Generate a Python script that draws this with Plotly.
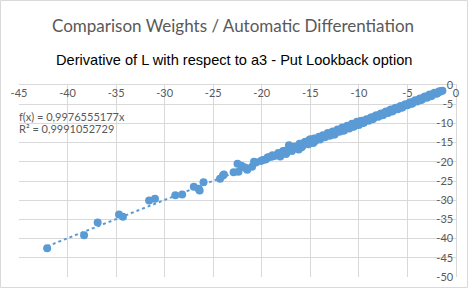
import plotly.graph_objects as go

# Points (Weights estimate vs AD)
x_vals = [-42.1, -38.3, -36.9, -34.7, -34.3, -31.6, -31.0, -28.9, -28.2, -27.0, -26.5, -26.4, -26.0,
          -24.3, -24.0, -23.9, -22.9, -22.5, -22.4, -22.1, -21.8, -21.6, -21.5, -21.0, -20.8, -20.6,
          -20.1, -19.9, -19.6, -19.3, -19.0, -18.7, -18.4, -18.1, -17.9, -17.7, -17.5, -17.2, -17.0,
          -16.8, -16.5, -16.2, -16.0, -15.8, -15.5, -15.2, -15.0, -14.8, -14.5, -14.3, -14.0, -13.8,
          -13.5, -13.3, -13.0, -12.8, -12.5, -12.3, -12.0, -11.8, -11.5, -11.3, -11.0, -10.8, -10.5,
          -10.3, -10.0, -9.8, -9.5, -9.3, -9.0, -8.8, -8.5, -8.3, -8.0, -7.8, -7.5, -7.3, -7.0, -6.8,
          -6.5, -6.3, -6.0, -5.8, -5.5, -5.3, -5.0, -4.8, -4.5, -4.3, -4.0, -3.8, -3.5, -3.3, -3.0,
          -2.8, -2.5, -2.3, -2.0, -1.8, -1.6, -1.4,
          -17.6, -16.9, -15.9, -14.7, -13.6, -12.6, -11.6, -10.6, -9.6, -8.6, -7.6, -6.6, -5.6, -4.6,
          -3.6, -2.6, -1.9,
          -19.4, -18.9, -18.3, -17.8, -17.3, -16.6, -16.1, -15.6, -15.1, -14.6, -14.1, -13.7, -13.2,
          -12.7, -12.2, -11.7, -11.2, -10.7, -10.2, -9.7, -9.2, -8.7, -8.2, -7.7, -7.2, -6.7, -6.2,
          -5.7, -5.2, -4.7, -4.2, -3.7, -3.2, -2.7, -2.2, -1.7]
y_vals = [-42.5, -39.1, -35.8, -33.7, -34.3, -30.1, -29.6, -28.7, -28.5, -26.5, -27.0, -27.5, -25.3,
          -24.4, -23.6, -23.3, -22.7, -20.5, -22.6, -21.0, -21.4, -21.7, -22.1, -21.3, -20.0, -20.2,
          -19.8, -19.5, -19.4, -18.8, -18.7, -18.5, -18.2, -18.6, -17.9, -17.4, -18.0, -15.7, -16.9,
          -16.3, -16.5, -16.8, -15.6, -15.9, -14.8, -15.4, -14.1, -14.4, -14.6, -13.9, -14.2, -13.5,
          -13.6, -13.1, -13.2, -12.6, -12.9, -12.1, -12.2, -11.5, -11.8, -11.0, -11.3, -10.5, -10.8,
          -10.1, -10.4, -9.4, -9.8, -9.2, -9.3, -8.6, -8.7, -8.1, -8.3, -7.6, -7.8, -7.1, -7.3, -6.6,
          -6.8, -6.1, -6.3, -5.7, -5.8, -5.2, -5.3, -4.7, -4.8, -4.2, -4.3, -3.7, -3.8, -3.2, -3.3,
          -2.7, -2.8, -2.2, -2.3, -1.8, -1.7, -1.5,
          -17.1, -17.2, -16.2, -15.1, -13.3, -12.9, -11.9, -10.9, -9.9, -8.9, -7.9, -6.9, -5.9, -4.9,
          -3.9, -2.9, -2.1,
          -18.9, -18.3, -17.7, -17.2, -16.9, -16.0, -15.3, -14.9, -14.3, -13.9, -13.5, -13.1, -12.5,
          -12.1, -11.6, -11.1, -10.6, -10.1, -9.6, -9.3, -8.9, -8.4, -7.9, -7.4, -6.9, -6.4, -5.9,
          -5.5, -5.0, -4.5, -4.0, -3.5, -3.0, -2.5, -2.0, -1.6]

slope = 0.9976555177
trend_x = [min(x_vals), max(x_vals)]
trend_y = [slope * v for v in trend_x]

x_ticks = [-45, -40, -35, -30, -25, -20, -15, -10, -5, 0]
y_ticks = [0, -5, -10, -15, -20, -25, -30, -35, -40, -45, -50]

title = "Comparison Weights / Automatic Differentiation"
subtitle = "Derivative of L with respect to a3 - Put Lookback option"
eq_text = "f(x) = 0,9976555177x"
r2_text = "R² = 0,9991052729"

blue = "#5b9bd5"
grey_text = "#595959"
grid = "#d9d9d9"
lato = "Lato, Carlito, sans-serif"

fig = go.Figure()
fig.add_trace(go.Scatter(x=trend_x, y=trend_y, mode="lines",
                         line=dict(color=blue, width=2, dash="dot"), hoverinfo="skip",
                         showlegend=False))
fig.add_trace(go.Scatter(x=x_vals, y=y_vals, mode="markers",
                         marker=dict(color=blue, size=8, line=dict(width=0)),
                         showlegend=False))

W, H = 468, 288
L, R, T, B = 19, 12, 85, 11
ph = H - T - B

def py(pix):
    return (H - B - pix) / ph

def px(pix):
    return (pix - L) / (W - L - R)

fig.update_layout(
    width=W, height=H,
    margin=dict(l=L, r=R, t=T, b=B, autoexpand=False),
    paper_bgcolor="white", plot_bgcolor="white",
    font=dict(family=lato, size=11, color=grey_text),
    xaxis=dict(range=[-45, 0], side="top", tickvals=x_ticks, ticktext=[str(v) for v in x_ticks],
               ticklabelposition="inside", ticklabeloverflow="allow", ticklabelstandoff=4,
               showgrid=True, gridcolor=grid, gridwidth=1, zeroline=False,
               showline=True, linecolor=grid, linewidth=1, ticks="",
               tickfont=dict(family=lato, size=11, color=grey_text), fixedrange=True),
    yaxis=dict(range=[-50, 0], side="right", tickvals=y_ticks, ticktext=[str(v) for v in y_ticks],
               ticklabelposition="inside", ticklabeloverflow="allow", ticklabelstandoff=2,
               showgrid=True, gridcolor=grid, gridwidth=1, zeroline=False,
               showline=True, linecolor=grid, linewidth=1, ticks="",
               tickfont=dict(family=lato, size=11, color=grey_text), fixedrange=True),
    annotations=[
        dict(text=title, xref="paper", yref="paper", x=px(233), y=py(25),
             xanchor="center", yanchor="middle", showarrow=False,
             font=dict(family=lato, size=17, color=grey_text)),
        dict(text=subtitle, xref="paper", yref="paper", x=px(233.5), y=py(60),
             xanchor="center", yanchor="middle", showarrow=False,
             font=dict(family="Liberation Sans, Arial, sans-serif", size=14.6, color="black")),
        dict(text=eq_text, xref="paper", yref="paper", x=px(17), y=py(116.5),
             xanchor="left", yanchor="middle", showarrow=False,
             font=dict(family=lato, size=11, color=grey_text)),
        dict(text=r2_text, xref="paper", yref="paper", x=px(17), y=py(128.5),
             xanchor="left", yanchor="middle", showarrow=False,
             font=dict(family=lato, size=11, color=grey_text)),
    ],
    shapes=[dict(type="rect", xref="paper", yref="paper",
                 x0=px(0.5), x1=px(W - 0.5), y0=py(H - 0.5), y1=py(0.5),
                 line=dict(color=grid, width=1), layer="below")],
)

fig.write_html("out.html", config={"displayModeBar": False},
               post_script="document.body.style.margin='0';document.body.style.padding='0';")
